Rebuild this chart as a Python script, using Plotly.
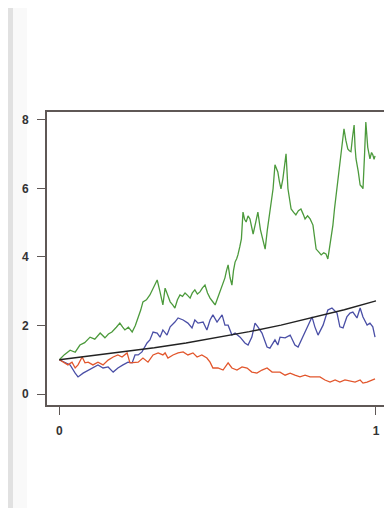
import plotly.graph_objects as go

# ---- data ----
green_t = [0.000,0.016,0.034,0.050,0.065,0.080,0.097,0.112,0.129,0.144,0.155,0.166,0.180,0.191,0.200,0.207,0.218,0.230,0.240,0.249,
           0.257,0.264,0.275,0.286,0.298,0.309,0.318,0.327,0.334,0.342,0.350,0.358,0.365,0.373,0.381,0.389,0.397,0.405,0.413,0.420,
           0.428,0.436,0.444,0.452,0.460,0.468,0.476,0.484,0.492,0.500,0.507,0.515,0.523,0.528,0.533,0.539,0.545,0.550,0.555,0.560,
           0.564,0.570,0.575,0.580,0.585,0.590,0.596,0.602,0.607,0.612,0.620,0.627,0.635,0.643,0.650,0.657,0.665,0.670,0.675,0.681,
           0.686,0.690,0.695,0.700,0.706,0.711,0.716,0.722,0.727,0.732,0.740,0.747,0.755,0.763,0.770,0.776,0.784,0.792,0.801,0.806,
           0.811,0.819,0.827,0.835,0.842,0.848,0.856,0.864,0.869,0.874,0.880,0.886,0.892,0.899,0.905,0.911,0.916,0.921,0.926,0.931,
           0.934,0.937,0.944,0.950,0.955,0.959,0.964,0.968,0.974,0.981,0.986,0.990,0.994,0.997]
green_v = [1.00,1.15,1.28,1.22,1.43,1.50,1.66,1.60,1.78,1.64,1.75,1.81,1.95,2.07,1.95,1.87,1.95,1.81,2.00,2.22,
           2.45,2.69,2.75,2.89,3.10,3.33,2.98,2.60,3.09,2.90,2.69,2.60,2.51,2.75,2.89,2.85,2.95,2.88,2.80,2.95,
           3.04,2.92,2.98,3.10,3.18,2.95,2.80,2.70,2.60,2.80,2.98,3.20,3.39,3.60,3.77,3.40,3.18,3.60,3.85,3.95,
           4.06,4.30,4.53,5.31,5.10,5.02,5.20,5.11,4.90,4.67,5.00,5.31,4.80,4.44,4.23,4.80,5.31,5.70,5.99,6.69,
           6.55,6.48,6.20,5.99,6.28,6.60,7.01,5.99,5.70,5.40,5.30,5.23,5.35,5.40,5.25,5.11,5.20,5.11,4.93,4.60,
           4.23,4.15,4.06,4.12,4.09,3.94,4.40,4.93,5.40,5.81,6.30,6.77,7.30,7.74,7.40,7.15,7.10,7.07,7.50,7.85,
           7.20,6.86,6.50,6.10,6.05,5.99,7.00,7.94,7.20,6.86,7.05,6.98,6.85,6.95]

blue_t = [0.000,0.018,0.034,0.050,0.059,0.075,0.091,0.106,0.122,0.138,0.154,0.170,0.185,0.201,0.217,0.230,0.239,0.249,0.261,0.277,
          0.286,0.296,0.309,0.318,0.327,0.340,0.350,0.365,0.375,0.391,0.406,0.419,0.428,0.438,0.454,0.466,0.476,0.485,0.498,0.514,
          0.523,0.533,0.545,0.555,0.571,0.586,0.596,0.608,0.618,0.627,0.640,0.656,0.665,0.681,0.690,0.697,0.713,0.729,0.744,0.754,
          0.767,0.782,0.798,0.807,0.817,0.833,0.848,0.861,0.877,0.886,0.896,0.908,0.918,0.927,0.940,0.950,0.959,0.972,0.981,0.990,0.997]
blue_v = [1.00,0.93,0.85,0.61,0.50,0.61,0.70,0.76,0.85,0.76,0.79,0.64,0.76,0.85,0.93,0.91,1.14,1.14,1.23,1.49,
          1.58,1.81,1.78,1.66,1.87,1.72,1.96,2.10,2.22,2.16,2.07,1.93,2.16,2.07,2.10,1.87,2.16,2.31,2.10,2.31,
          2.01,2.01,1.72,1.78,1.66,1.49,1.43,1.66,2.07,1.96,1.78,1.37,1.34,1.58,1.43,1.66,1.64,1.72,1.43,1.37,
          1.64,1.96,2.25,1.96,1.72,2.01,2.45,2.51,2.36,1.96,1.93,2.25,2.36,2.39,2.22,2.51,2.25,2.01,2.07,1.96,1.66]

red_t = [0.000,0.018,0.027,0.040,0.050,0.059,0.072,0.081,0.091,0.106,0.122,0.138,0.154,0.170,0.185,0.198,0.214,0.223,0.239,0.249,
         0.264,0.280,0.296,0.312,0.327,0.334,0.343,0.359,0.375,0.391,0.406,0.422,0.435,0.450,0.466,0.476,0.485,0.501,0.517,0.533,
         0.545,0.561,0.577,0.593,0.608,0.624,0.640,0.656,0.672,0.690,0.697,0.713,0.729,0.744,0.760,0.776,0.792,0.807,0.823,0.839,
         0.855,0.871,0.886,0.902,0.918,0.934,0.950,0.959,0.972,0.987,0.997]
red_v = [1.00,0.91,0.85,0.93,0.76,0.85,1.08,0.91,0.93,0.85,0.93,0.85,0.99,1.08,1.14,1.08,1.20,0.91,0.91,0.93,
         1.05,0.93,1.14,1.20,1.14,1.20,1.05,1.14,1.20,1.23,1.14,1.20,1.08,1.14,1.05,0.93,0.76,0.76,0.70,0.91,
         0.76,0.70,0.79,0.76,0.64,0.61,0.70,0.76,0.64,0.64,0.64,0.55,0.61,0.55,0.50,0.55,0.50,0.50,0.50,0.41,
         0.35,0.41,0.35,0.41,0.38,0.35,0.41,0.32,0.35,0.41,0.44]

black_t = [0.0,0.1,0.2,0.3,0.4,0.5,0.6,0.7,0.8,0.9,1.0]
black_v = [1.00,1.11,1.22,1.35,1.49,1.65,1.82,2.01,2.23,2.46,2.72]

x_ticks = [0, 1]
y_ticks = [0, 2, 4, 6, 8]

fig = go.Figure()
fig.add_trace(go.Scatter(x=green_t, y=green_v, mode="lines", line=dict(color="#4c9a3c", width=1.3)))
fig.add_trace(go.Scatter(x=blue_t, y=blue_v, mode="lines", line=dict(color="#4a4fa6", width=1.3)))
fig.add_trace(go.Scatter(x=red_t, y=red_v, mode="lines", line=dict(color="#e2562c", width=1.3)))
fig.add_trace(go.Scatter(x=black_t, y=black_v, mode="lines", line=dict(color="#222222", width=1.4)))

axis_col = "#5f5856"
tickfont = dict(family="Liberation Sans, Arial, sans-serif", size=12, color="#333333", weight="bold")

# page has an 8px body margin; the figure is sized/margined to compensate
W, H = 381, 500
L, R, T, B = 39, 1, 104, 103
pw, ph = W - L - R, H - T - B

fig.update_layout(
    width=W, height=H,
    margin=dict(l=L, r=R, t=T, b=B),
    paper_bgcolor="white", plot_bgcolor="white",
    showlegend=False,
    xaxis=dict(range=[-0.039, 1.038], tickvals=x_ticks, ticktext=[str(v) for v in x_ticks],
               showgrid=False, zeroline=False, showline=True, linecolor=axis_col, linewidth=1.6,
               mirror=True, ticks="outside", ticklen=8, tickwidth=1.4, tickcolor=axis_col,
               tickfont=tickfont, ticklabelstandoff=6, automargin=False),
    yaxis=dict(range=[-0.32, 8.23], tickvals=y_ticks, ticktext=[str(v) for v in y_ticks],
               showgrid=False, zeroline=False, showline=True, linecolor=axis_col, linewidth=1.6,
               mirror="ticks", ticks="outside", ticklen=8, tickwidth=1.4, tickcolor=axis_col,
               tickfont=tickfont, ticklabelstandoff=6, automargin=False),
    shapes=[
        dict(type="rect", xref="paper", yref="paper", x0=-L/pw, x1=(5-L)/pw, y0=-B/ph, y1=1+T/ph,
             fillcolor="#e1e1e1", line=dict(width=0), layer="below"),
        dict(type="rect", xref="paper", yref="paper", x0=(5-L)/pw, x1=(19-L)/pw, y0=-B/ph, y1=1+T/ph,
             fillcolor="#f9f9f9", line=dict(width=0), layer="below"),
    ],
)

fig.write_html("out.html")
